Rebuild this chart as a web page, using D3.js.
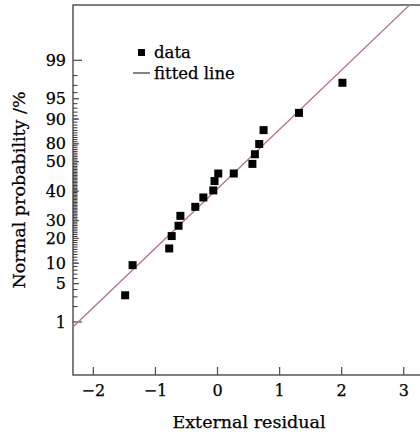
<!DOCTYPE html>
<html>
<head>
<meta charset="utf-8">
<script src="https://cdnjs.cloudflare.com/ajax/libs/d3/7.8.5/d3.min.js"></script>
<style>
  body { margin: 0; background: #fff; }
  text { font-family: "DejaVu Serif", serif; fill: #000; stroke: #000; stroke-width: 0.25px; }
</style>
</head>
<body>
<div id="chart"></div>
<script>
// external residuals and normal probability (%) of the points
const residuals = [-1.48, -1.36, -0.77, -0.73, -0.62, -0.59, -0.35, -0.22, -0.06, -0.04, 0.02, 0.27, 0.57, 0.61, 0.68, 0.75, 1.32, 2.02];
const probabilities = [3.2, 9.4, 15.4, 21.2, 26.9, 33.0, 39.0, 45.5, 50.5, 57.1, 62.3, 62.3, 68.6, 74.4, 79.9, 86.1, 91.8, 97.3];

// fitted line in normal score units: z = intercept + slope * residual
const fitIntercept = 0.034;
const fitSlope = 1.056;

// y tick positions (%) and the labels printed at them
const yTickValues = [99, 95, 90, 80, 70, 50, 30, 20, 10, 5, 1];
const yTickLabels = ['99', '95', '90', '80', '50', '40', '30', '20', '10', '5', '1'];
const xTickValues = [-2, -1, 0, 1, 2, 3];

// inverse normal cdf (Acklam)
function probit(p) {
  const a = [-39.69683028665376, 220.9460984245205, -275.9285104469687, 138.3577518672690, -30.66479806614716, 2.506628277459239];
  const b = [-54.47609879822406, 161.5858368580409, -155.6989798598866, 66.80131188771972, -13.28068155288572];
  const c = [-0.007784894002430293, -0.3223964580411365, -2.400758277161838, -2.549732539343734, 4.374664141464968, 2.938163982698783];
  const d = [0.007784695709041462, 0.3224671290700398, 2.445134137142996, 3.754408661907416];
  const pl = 0.02425;
  let q, r;
  if (p < pl) {
    q = Math.sqrt(-2 * Math.log(p));
    return (((((c[0]*q+c[1])*q+c[2])*q+c[3])*q+c[4])*q+c[5]) / ((((d[0]*q+d[1])*q+d[2])*q+d[3])*q+1);
  } else if (p <= 1 - pl) {
    q = p - 0.5; r = q * q;
    return (((((a[0]*r+a[1])*r+a[2])*r+a[3])*r+a[4])*r+a[5])*q / (((((b[0]*r+b[1])*r+b[2])*r+b[3])*r+b[4])*r+1);
  } else {
    q = Math.sqrt(-2 * Math.log(1 - p));
    return -(((((c[0]*q+c[1])*q+c[2])*q+c[3])*q+c[4])*q+c[5]) / ((((d[0]*q+d[1])*q+d[2])*q+d[3])*q+1);
  }
}

const W = 420, H = 435;
const mLeft = 73, mTop = 5, mBottom = 375;

const svg = d3.select('#chart').append('svg')
  .attr('width', W).attr('height', H);

const x = d3.scaleLinear().domain([-2.32, 3.27]).range([mLeft, W]);
const z = d3.scaleLinear().domain([-3.27, 3.31]).range([mBottom, mTop]);
const y = p => z(probit(p / 100));

const frame = '#555';

// frame: left, top, bottom
svg.append('path')
  .attr('d', `M${W},${mTop}H${mLeft}V${mBottom}H${W}`)
  .attr('fill', 'none').attr('stroke', frame).attr('stroke-width', 1.5);

// x axis
const xAxis = d3.axisBottom(x).tickValues(xTickValues).tickFormat(d3.format('d'))
  .tickSize(-8).tickPadding(10);
const gx = svg.append('g').attr('transform', `translate(0,${mBottom})`).call(xAxis);
gx.select('.domain').remove();
gx.selectAll('line').attr('stroke', frame).attr('stroke-width', 1.3);
gx.selectAll('text').attr('font-size', 16).attr('font-family', null).attr('fill', null);

// y minor ticks every percent
const minor = d3.range(2, 99);
svg.append('g').selectAll('line').data(minor).join('line')
  .attr('x1', mLeft).attr('x2', mLeft + 4.5)
  .attr('y1', d => y(d)).attr('y2', d => y(d))
  .attr('stroke', '#333').attr('stroke-width', 1);

// y labeled ticks
const yAxis = d3.axisLeft(z)
  .tickValues(yTickValues.map(p => probit(p / 100)))
  .tickFormat((d, i) => yTickLabels[i])
  .tickSize(0).tickPadding(7);
const gy = svg.append('g').attr('transform', `translate(${mLeft},0)`).call(yAxis);
gy.select('.domain').remove();
gy.selectAll('text').attr('font-size', 16).attr('font-family', null).attr('fill', null);
svg.append('g').selectAll('line').data(yTickValues).join('line')
  .attr('x1', mLeft).attr('x2', d => mLeft + (d === 99 || d === 1 ? 9 : 6))
  .attr('y1', d => y(d)).attr('y2', d => y(d))
  .attr('stroke', frame).attr('stroke-width', 1.3);

// fitted line
svg.append('clipPath').attr('id', 'plot')
  .append('rect').attr('x', mLeft).attr('y', mTop).attr('width', W - mLeft).attr('height', mBottom - mTop);
const xd = x.domain();
svg.append('line')
  .attr('clip-path', 'url(#plot)')
  .attr('x1', x(xd[0])).attr('y1', z(fitIntercept + fitSlope * xd[0]))
  .attr('x2', x(xd[1])).attr('y2', z(fitIntercept + fitSlope * xd[1]))
  .attr('stroke', '#b87480').attr('stroke-width', 1.3);

// data points
const s = 8;
svg.append('g').selectAll('rect').data(residuals).join('rect')
  .attr('x', d => x(d) - s / 2)
  .attr('y', (d, i) => y(probabilities[i]) - s / 2)
  .attr('width', s).attr('height', s)
  .attr('fill', '#000');

// legend
svg.append('rect').attr('x', 138).attr('y', 49).attr('width', 7).attr('height', 7).attr('fill', '#000');
svg.append('text').attr('x', 154).attr('y', 58).attr('font-size', 16.5).text('data');
svg.append('line').attr('x1', 133).attr('x2', 150).attr('y1', 73).attr('y2', 73)
  .attr('stroke', '#333').attr('stroke-width', 1.2);
svg.append('text').attr('x', 154).attr('y', 79).attr('font-size', 16.5).text('fitted line');

// axis titles
svg.append('text')
  .attr('x', 249).attr('y', 428)
  .attr('text-anchor', 'middle').attr('font-size', 17.5)
  .text('External residual');

svg.append('text')
  .attr('transform', 'translate(25,190) rotate(-90)')
  .attr('text-anchor', 'middle').attr('font-size', 17.5)
  .text('Normal probability /%');
</script>
</body>
</html>
